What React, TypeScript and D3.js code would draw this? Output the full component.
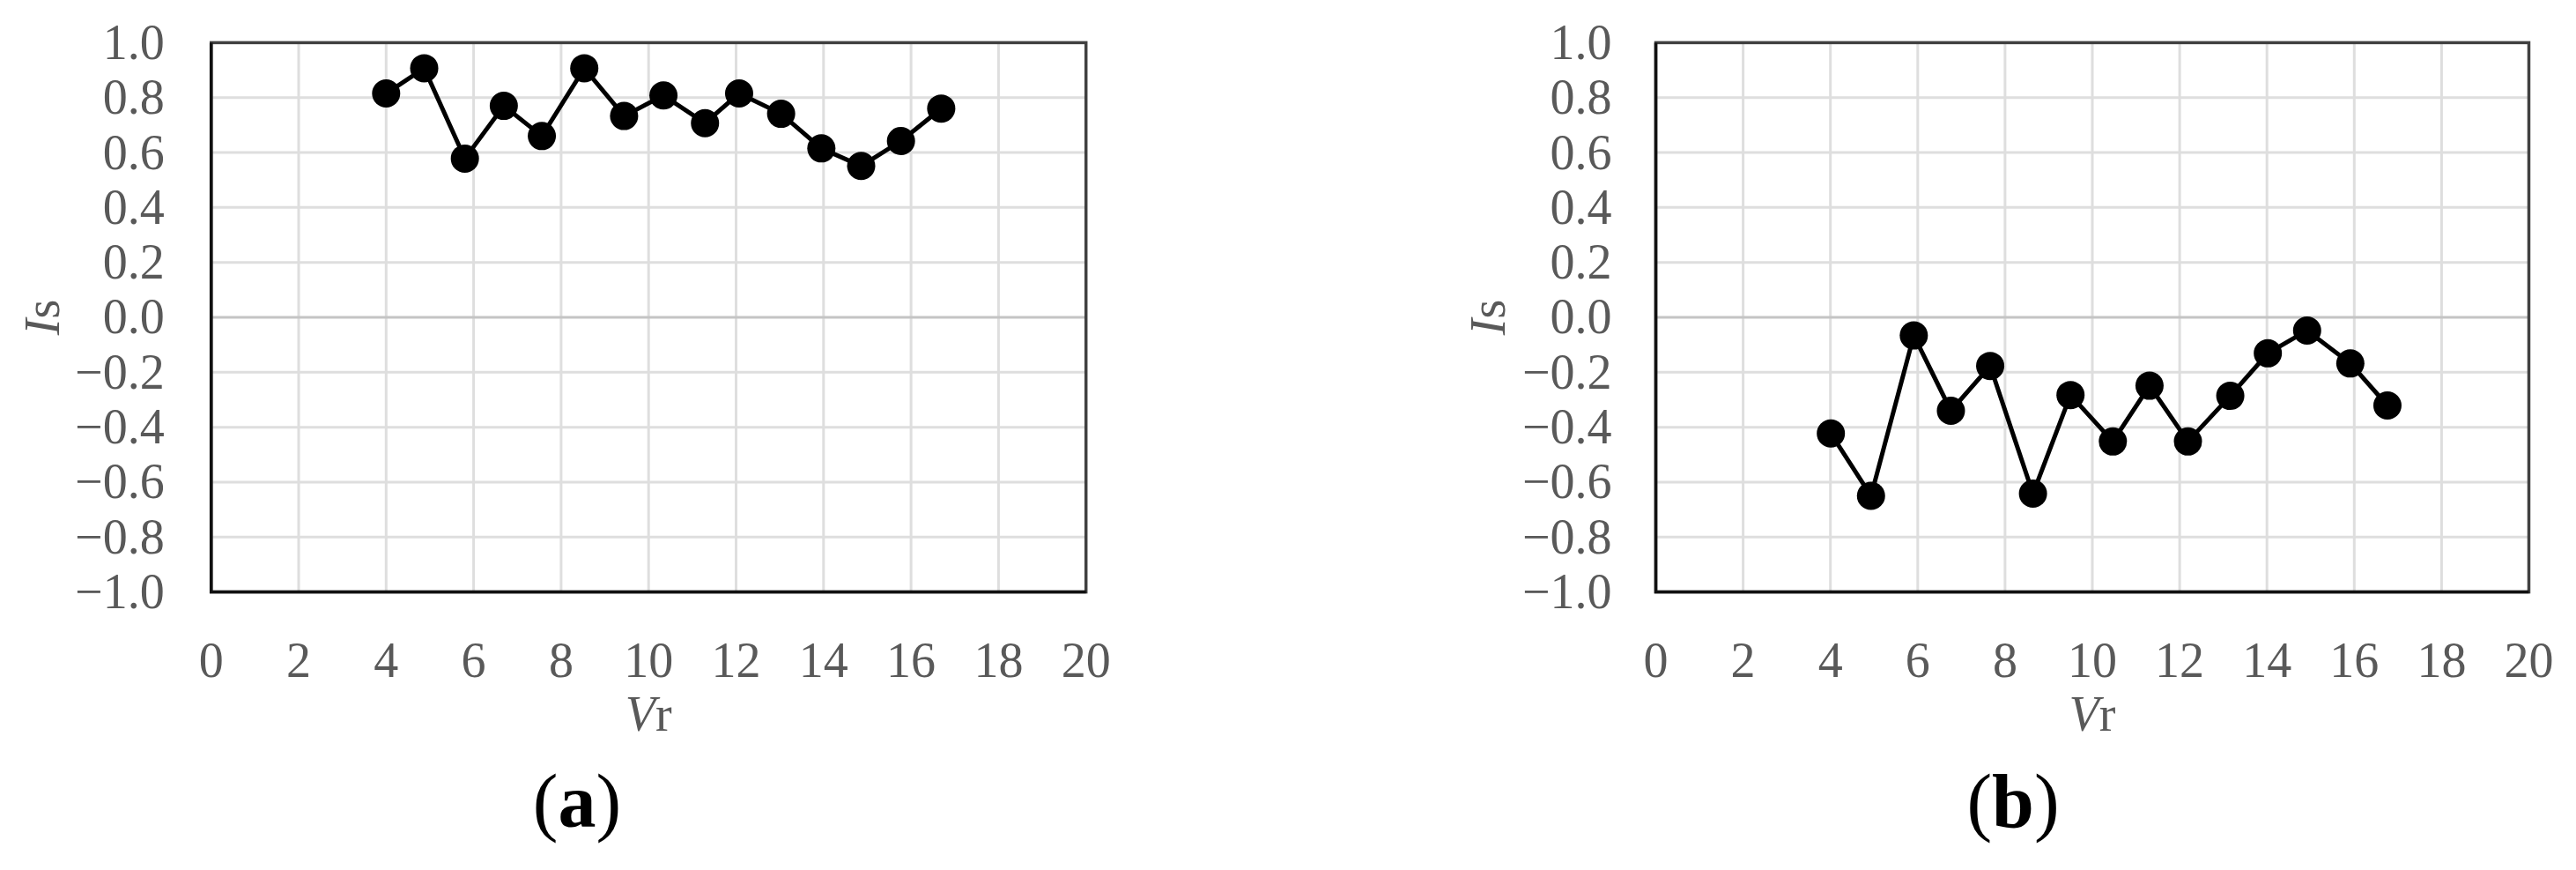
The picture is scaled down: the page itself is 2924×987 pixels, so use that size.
import React, { useRef, useEffect } from 'react';
import * as d3 from 'd3';

// panel (a)
const vrA = [4.0, 4.87, 5.8, 6.69, 7.56, 8.53, 9.44, 10.34, 11.29, 12.07, 13.03, 13.95, 14.86, 15.77, 16.69];
const isA = [0.815, 0.907, 0.578, 0.77, 0.66, 0.907, 0.733, 0.808, 0.707, 0.815, 0.741, 0.615, 0.551, 0.642, 0.76];

// panel (b)
const vrB = [4.01, 4.93, 5.91, 6.76, 7.66, 8.64, 9.5, 10.47, 11.31, 12.19, 13.16, 14.02, 14.92, 15.91, 16.76];
const isB = [-0.423, -0.65, -0.066, -0.34, -0.177, -0.642, -0.283, -0.452, -0.249, -0.452, -0.286, -0.131, -0.048, -0.168, -0.321];

const xTicks = [0, 2, 4, 6, 8, 10, 12, 14, 16, 18, 20];
const yTicks = [-1, -0.8, -0.6, -0.4, -0.2, 0, 0.2, 0.4, 0.6, 0.8, 1];

const W = 2924;
const H = 987;
const FONT = '"Liberation Serif", "DejaVu Serif", serif';

type Panel = {
  xs: number[];
  ys: number[];
  left: number;
  right: number;
  labelGap: number;
  titleX: number;
  caption: string;
  captionX: number;
};

const panels: Panel[] = [
  { xs: vrA, ys: isA, left: 239.7, right: 1232.7, labelGap: 53, titleX: 67, caption: 'a', captionX: 655 },
  { xs: vrB, ys: isB, left: 1879.5, right: 2870.5, labelGap: 50, titleX: 1708, caption: 'b', captionX: 2285 },
];

const TOP = 48.4;
const BOTTOM = 671.6;

const App: React.FC = () => {
  const ref = useRef<SVGSVGElement | null>(null);

  useEffect(() => {
    if (!ref.current) return;
    const svg = d3.select(ref.current);
    svg.selectAll('*').remove();

    svg.append('rect').attr('width', W).attr('height', H).attr('fill', '#fff');

    const fmt = d3.format('.1f');

    panels.forEach((p) => {
      const x = d3.scaleLinear().domain([0, 20]).range([p.left, p.right]);
      const y = d3.scaleLinear().domain([-1, 1]).range([BOTTOM, TOP]);
      const g = svg.append('g');

      // grid
      g.selectAll('.vgrid')
        .data(xTicks.slice(1, -1))
        .enter()
        .append('line')
        .attr('x1', (d) => x(d))
        .attr('x2', (d) => x(d))
        .attr('y1', TOP)
        .attr('y2', BOTTOM)
        .attr('stroke', '#dedede')
        .attr('stroke-width', 3);

      g.selectAll('.hgrid')
        .data(yTicks.slice(1, -1))
        .enter()
        .append('line')
        .attr('x1', p.left)
        .attr('x2', p.right)
        .attr('y1', (d) => y(d))
        .attr('y2', (d) => y(d))
        .attr('stroke', (d) => (d === 0 ? '#c4c4c4' : '#dedede'))
        .attr('stroke-width', 3);

      // frame
      g.append('rect')
        .attr('x', p.left)
        .attr('y', TOP)
        .attr('width', p.right - p.left)
        .attr('height', BOTTOM - TOP)
        .attr('fill', 'none')
        .attr('stroke', '#404040')
        .attr('stroke-width', 3.5);

      g.append('path')
        .attr('d', `M${p.left},${TOP}V${BOTTOM}H${p.right}`)
        .attr('fill', 'none')
        .attr('stroke', '#111')
        .attr('stroke-width', 3.5);

      // y tick labels
      g.selectAll('.ylab')
        .data(yTicks)
        .enter()
        .append('text')
        .attr('x', p.left - p.labelGap)
        .attr('y', (d) => y(d))
        .attr('dy', '0.33em')
        .attr('text-anchor', 'end')
        .attr('font-family', FONT)
        .attr('font-size', 56)
        .attr('fill', '#595959')
        .text((d) => fmt(d));

      // x tick labels
      g.selectAll('.xlab')
        .data(xTicks)
        .enter()
        .append('text')
        .attr('x', (d) => x(d))
        .attr('y', 768)
        .attr('text-anchor', 'middle')
        .attr('font-family', FONT)
        .attr('font-size', 56)
        .attr('fill', '#595959')
        .text((d) => String(d));

      // axis titles
      const xt = g.append('text')
        .attr('x', (p.left + p.right) / 2)
        .attr('y', 829)
        .attr('text-anchor', 'middle')
        .attr('font-family', FONT)
        .attr('font-size', 56)
        .attr('fill', '#595959');
      xt.append('tspan').attr('font-style', 'italic').text('V');
      xt.append('tspan').text('r');

      const yt = g.append('text')
        .attr('transform', `translate(${p.titleX},${y(0)}) rotate(-90)`)
        .attr('text-anchor', 'middle')
        .attr('font-family', FONT)
        .attr('font-size', 56)
        .attr('fill', '#595959');
      yt.append('tspan').attr('font-style', 'italic').text('I');
      yt.append('tspan').text('s');

      // series
      const pts = p.xs.map((v, i) => [v, p.ys[i]] as [number, number]);
      const line = d3.line<[number, number]>()
        .x((d) => x(d[0]))
        .y((d) => y(d[1]));

      g.append('path')
        .datum(pts)
        .attr('fill', 'none')
        .attr('stroke', '#000')
        .attr('stroke-width', 5)
        .attr('d', line);

      g.selectAll('.dot')
        .data(pts)
        .enter()
        .append('circle')
        .attr('cx', (d) => x(d[0]))
        .attr('cy', (d) => y(d[1]))
        .attr('r', 16)
        .attr('fill', '#000');

      // caption
      const cap = svg.append('text')
        .attr('x', p.captionX)
        .attr('y', 938)
        .attr('text-anchor', 'middle')
        .attr('font-family', FONT)
        .attr('font-size', 86)
        .attr('fill', '#000');
      cap.append('tspan').text('(');
      cap.append('tspan').attr('font-weight', 'bold').text(p.caption);
      cap.append('tspan').text(')');
    });
  }, []);

  return (
    <svg
      ref={ref}
      width={W}
      height={H}
      style={{ position: 'absolute', left: 0, top: 0, display: 'block' }}
    />
  );
};

export default App;
